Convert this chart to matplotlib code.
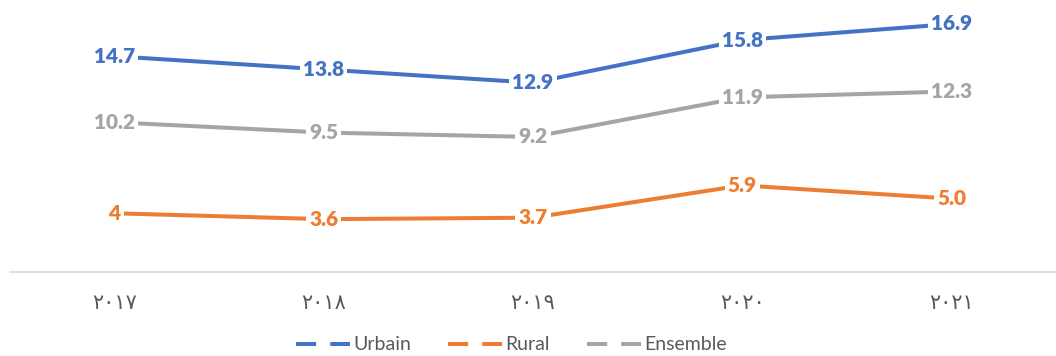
import matplotlib
matplotlib.use("Agg")
import matplotlib.pyplot as plt
from matplotlib.lines import Line2D

years = ["٢٠١٧", "٢٠١٨", "٢٠١٩", "٢٠٢٠", "٢٠٢١"]
urbain = [14.7, 13.8, 12.9, 15.8, 16.9]
rural = [4.0, 3.6, 3.7, 5.9, 5.0]
ensemble = [10.2, 9.5, 9.2, 11.9, 12.3]
urbain_lbl = ["14.7", "13.8", "12.9", "15.8", "16.9"]
rural_lbl = ["4", "3.6", "3.7", "5.9", "5.0"]
ensemble_lbl = ["10.2", "9.5", "9.2", "11.9", "12.3"]
names = ["Urbain", "Rural", "Ensemble"]

colors = ["#4472C4", "#ED7D31", "#A5A5A5"]

fig = plt.figure(figsize=(10.56, 3.56), dpi=100)
ax = fig.add_axes([10 / 1056, 0.236, 1046 / 1056, 0.742])

x = list(range(len(years)))
series = [(urbain, urbain_lbl), (rural, rural_lbl), (ensemble, ensemble_lbl)]
for (vals, lbls), c in zip(series, colors):
    ax.plot(x, vals, color=c, lw=2.9, solid_capstyle="butt", zorder=2)
    for xi, v, s in zip(x, vals, lbls):
        ax.text(xi, v, s, ha="center", va="center", color=c, fontsize=15,
                fontweight="heavy", family="Lato", zorder=3,
                bbox=dict(boxstyle="square,pad=0.15", fc="white", ec="none"))

ax.set_xlim(-0.5, 4.5)
ax.set_ylim(0, 18)
ax.set_xticks(x)
ax.set_xticklabels(years, family="DejaVu Sans", fontsize=15, color="#595959")
ax.tick_params(axis="x", length=0, pad=15)
ax.set_yticks([])
for side in ["top", "left", "right"]:
    ax.spines[side].set_visible(False)
ax.spines["bottom"].set_color("#D9D9D9")
ax.spines["bottom"].set_linewidth(1.2)

handles = [Line2D([], [], color=c, lw=2.9, linestyle=(0, (5, 3.5))) for c in colors]
leg = fig.legend(handles, names, loc="center", bbox_to_anchor=(0.484, 1 - 345 / 356),
                 ncol=3, frameon=False, handlelength=2.8, handletextpad=0.15,
                 columnspacing=1.9, prop={"family": "Lato", "size": 14})
for t in leg.get_texts():
    t.set_color("#595959")

fig.savefig("out.png", dpi=100)
